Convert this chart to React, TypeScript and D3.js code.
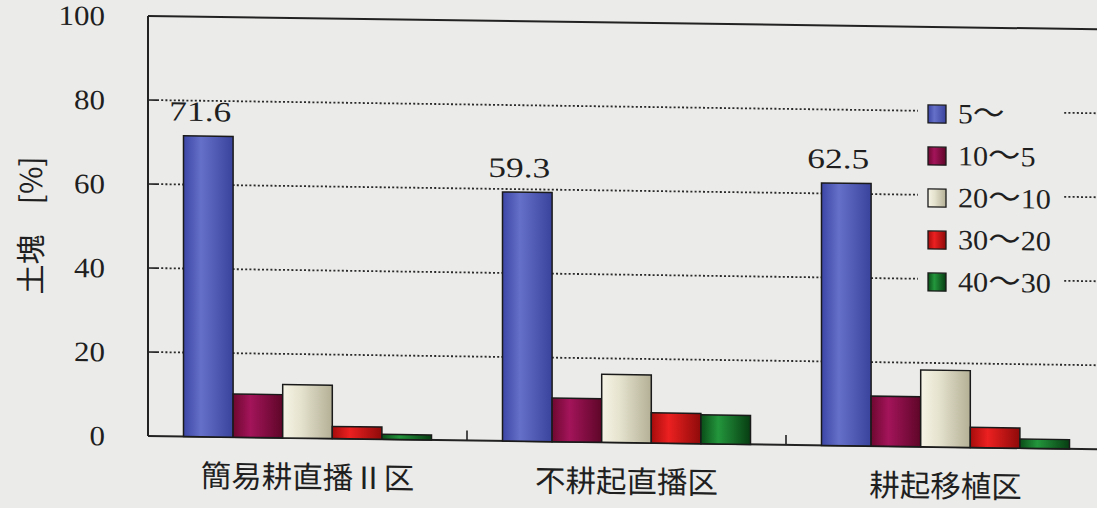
import React from "react";
import * as d3 from "d3";

const categories = ["簡易耕直播Ⅱ区", "不耕起直播区", "耕起移植区"];
const series = ["5～", "10～5", "20～10", "30～20", "40～30"];
const values = [
  [71.6, 10.3, 12.7, 2.9, 1.2],
  [59.3, 10.4, 16.2, 7.2, 6.9],
  [62.5, 11.9, 18.3, 4.8, 2.2],
];
const yTicks = [0, 20, 40, 60, 80, 100];
const seriesColors = [
  { a: "#3c46a6", b: "#6570c8", c: "#3a439c" },
  { a: "#6e0830", b: "#a3145a", c: "#5e0628" },
  { a: "#f6f4e6", b: "#e6e3cf", c: "#b4b096" },
  { a: "#a60c0c", b: "#ec2020", c: "#8e0a0a" },
  { a: "#0a4d18", b: "#23963c", c: "#073d12" },
];

const W = 1097;
const H = 508;
const left = 148;
const catW = 319;
const y = d3.scaleLinear().domain([0, 100]).range([436, 16]);
const x = d3.scaleBand<string>().domain(categories).range([left, left + catW * 3]);
const inner = d3.scaleBand<string>().domain(series).range([35.5, 35.5 + 49.6 * 5]);

const digitFont = "'Liberation Serif', 'DejaVu Serif', serif";
const cjkFont = "'Noto Sans CJK JP', 'Noto Sans CJK SC', sans-serif";

function textLen(s: string) {
  let w = 0;
  for (const ch of s) w += ch === "～" ? 31 : 15.5;
  return w;
}

function Label({ s }: { s: string }) {
  const parts = s.split("～");
  return (
    <>
      {parts.map((p, i) => (
        <React.Fragment key={i}>
          {i > 0 && (
            <tspan fontFamily={cjkFont} fontSize={30}>
              ～
            </tspan>
          )}
          {p && <tspan>{p}</tspan>}
        </React.Fragment>
      ))}
    </>
  );
}

export default function App() {
  const bg = "#ebebe9";
  const legendX = 928;
  const legendTop = 94;
  const ink = "#1f1f1f";
  return (
    <svg
      width={W}
      height={H}
      style={{ position: "absolute", left: 0, top: 0, background: bg }}
    >
      <defs>
        {seriesColors.map((c, i) => (
          <linearGradient key={i} id={`g${i}`} x1="0" x2="1" y1="0" y2="0">
            <stop offset="0" stopColor={c.a} />
            <stop offset="0.35" stopColor={c.b} />
            <stop offset="1" stopColor={c.c} />
          </linearGradient>
        ))}
      </defs>
      <rect x={0} y={0} width={W} height={H} fill={bg} />
      <g transform={`translate(${left},0) skewY(0.8) translate(${-left},0)`}>
        {/* gridlines */}
        {yTicks
          .filter((t) => t > 0 && t < 100)
          .map((t) => (
            <g key={t}>
              <line
                x1={left + 9}
                x2={W + 40}
                y1={y(t)}
                y2={y(t)}
                stroke="#2a2a2a"
                strokeWidth={1.8}
                strokeDasharray="2,2.2"
              />
              <line x1={left} x2={left + 9} y1={y(t)} y2={y(t)} stroke="#222" strokeWidth={1.6} />
            </g>
          ))}
        {/* frame */}
        <line x1={left} x2={W + 40} y1={y(100)} y2={y(100)} stroke="#222" strokeWidth={2} />
        <line x1={left} x2={left} y1={y(100)} y2={y(0)} stroke="#222" strokeWidth={2} />
        <line x1={left} x2={W + 40} y1={y(0)} y2={y(0)} stroke="#222" strokeWidth={2} />
        {categories.slice(1).map((c) => (
          <line
            key={c}
            x1={x(c)!}
            x2={x(c)!}
            y1={y(0)}
            y2={y(0) - 10}
            stroke="#222"
            strokeWidth={1.6}
          />
        ))}
        {/* y tick labels */}
        {yTicks.map((t) => (
          <text
            key={t}
            x={105}
            y={y(t) + 10}
            textAnchor="end"
            fontFamily={digitFont}
            fontSize={28}
            fill={ink}
            textLength={textLen(String(t))}
            lengthAdjust="spacingAndGlyphs"
          >
            {t}
          </text>
        ))}
        {/* y axis title */}
        <text
          transform={`translate(29,227) rotate(-90)`}
          textAnchor="middle"
          dominantBaseline="central"
          fontFamily={cjkFont}
          fontSize={30}
          fill={ink}
        >
          土塊　[%]
        </text>
        {/* bars */}
        {categories.map((c, ci) => (
          <g key={c} transform={`translate(${x(c)},0)`}>
            {series.map((s, si) => {
              const v = values[ci][si];
              return (
                <rect
                  key={s}
                  x={inner(s)!}
                  y={y(v)}
                  width={inner.bandwidth()}
                  height={y(0) - y(v)}
                  fill={`url(#g${si})`}
                  stroke="#1a1a1a"
                  strokeWidth={1.5}
                />
              );
            })}
            <text
              x={inner(series[0])! + inner.bandwidth() / 2 - 8}
              y={y(values[ci][0]) - 15}
              textAnchor="middle"
              fontFamily={digitFont}
              fontSize={28}
              fill={ink}
              textLength={textLen(values[ci][0].toFixed(1))}
              lengthAdjust="spacingAndGlyphs"
            >
              {values[ci][0].toFixed(1)}
            </text>
            <text
              x={x.bandwidth() / 2}
              y={473}
              textAnchor="middle"
              dominantBaseline="central"
              fontFamily={cjkFont}
              fontSize={30.5}
              fill={ink}
            >
              {c}
            </text>
          </g>
        ))}
        {/* legend */}
        <rect x={918} y={legendTop - 12} width={144} height={212} fill={bg} />
        {series.map((s, i) => {
          const ty = legendTop + i * 42;
          return (
            <g key={s}>
              <rect
                x={legendX}
                y={ty}
                width={18}
                height={18}
                fill={`url(#g${i})`}
                stroke="#1a1a1a"
                strokeWidth={1.3}
              />
              <text
                x={958}
                y={ty + 18}
                fontFamily={digitFont}
                fontSize={28}
                fill={ink}
                textLength={textLen(s)}
                lengthAdjust="spacingAndGlyphs"
              >
                <Label s={s} />
              </text>
            </g>
          );
        })}
      </g>
    </svg>
  );
}
